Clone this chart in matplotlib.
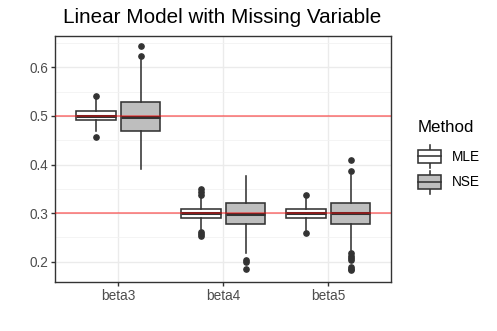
import matplotlib
matplotlib.use("Agg")
import matplotlib.pyplot as plt
from matplotlib.patches import Rectangle
from matplotlib.lines import Line2D
from matplotlib.legend_handler import HandlerBase

plt.rcParams["font.family"] = ["Liberation Sans", "DejaVu Sans"]

categories = ["beta3", "beta4", "beta5"]
methods = ["MLE", "NSE"]
true_values = [0.5, 0.3]

# box statistics per category: [MLE, NSE]
q1 = {"beta3": [0.491, 0.468], "beta4": [0.291, 0.277], "beta5": [0.290, 0.278]}
med = {"beta3": [0.500, 0.498], "beta4": [0.300, 0.299], "beta5": [0.300, 0.300]}
q3 = {"beta3": [0.511, 0.529], "beta4": [0.308, 0.320], "beta5": [0.308, 0.321]}
whislo = {"beta3": [0.468, 0.391], "beta4": [0.267, 0.217], "beta5": [0.265, 0.224]}
whishi = {"beta3": [0.535, 0.615], "beta4": [0.335, 0.376], "beta5": [0.330, 0.378]}
fliers = {
    "beta3": [[0.541, 0.457], [0.623, 0.643]],
    "beta4": [[0.349, 0.343, 0.338, 0.262, 0.257, 0.253], [0.203, 0.199, 0.186]],
    "beta5": [[0.337, 0.260], [0.409, 0.386, 0.218, 0.212, 0.207, 0.203, 0.190, 0.186, 0.183]],
}

fills = ["#FFFFFF", "#BEBEBE"]
edge = "#333333"

fig = plt.figure(figsize=(4.97, 3.31), dpi=100)
ax = fig.add_axes([0.1113, 0.149, 0.676, 0.743])

offset = 0.212
width = 0.375
for i, c in enumerate(categories):
    for j, m in enumerate(methods):
        pos = i + 1 + (-offset if j == 0 else offset)
        stats = [dict(med=med[c][j], q1=q1[c][j], q3=q3[c][j],
                      whislo=whislo[c][j], whishi=whishi[c][j],
                      fliers=fliers[c][j], label=m)]
        ax.bxp(stats, positions=[pos], widths=width, patch_artist=True,
               showcaps=False, manage_ticks=False,
               boxprops=dict(facecolor=fills[j], edgecolor=edge, linewidth=1.15),
               whiskerprops=dict(color=edge, linewidth=1.15),
               medianprops=dict(color=edge, linewidth=2.2),
               flierprops=dict(marker="o", markerfacecolor=edge,
                               markeredgecolor=edge, markersize=3.8),
               zorder=3)

for v in true_values:
    ax.axhline(v, color="#FF0000", alpha=0.5, linewidth=1.2, zorder=5)

ax.set_xlim(0.4, 3.6)
ax.set_ylim(0.159, 0.665)
ax.set_xticks([1, 2, 3])
ax.set_xticklabels(categories)
ax.set_yticks([0.2, 0.3, 0.4, 0.5, 0.6])
ax.set_yticklabels(["0.2", "0.3", "0.4", "0.5", "0.6"])
ax.set_yticks([0.25, 0.35, 0.45, 0.55, 0.65], minor=True)
ax.tick_params(axis="y", which="minor", length=0)
ax.tick_params(axis="both", which="major", length=3, width=1, color="#333333",
               labelcolor="#4D4D4D", labelsize=9.8, pad=2)
ax.grid(True, which="major", color="#EBEBEB", linewidth=1.0, zorder=0)
ax.grid(True, which="minor", axis="y", color="#F2F2F2", linewidth=0.6, zorder=0)
ax.set_axisbelow(True)
for s in ax.spines.values():
    s.set_color("#333333")
    s.set_linewidth(1.0)

fig.text(0.4467, 0.946, "Linear Model with Missing Variable", ha="center",
         va="center", fontsize=14.9, color="black")


class BoxHandler(HandlerBase):
    def create_artists(self, legend, orig_handle, xdescent, ydescent, width,
                       height, fontsize, trans):
        fc = orig_handle.get_facecolor()
        bh = height * 0.59
        x0 = -xdescent
        y0 = -ydescent + (height - bh) / 2
        wl = height * 0.2
        cx = x0 + width / 2
        rect = Rectangle((x0, y0), width, bh, facecolor=fc, edgecolor=edge,
                         linewidth=1.15, transform=trans)
        w1 = Line2D([cx, cx], [y0 - wl, y0], color=edge, linewidth=1.15, transform=trans)
        w2 = Line2D([cx, cx], [y0 + bh, y0 + bh + wl], color=edge, linewidth=1.15, transform=trans)
        md = Line2D([x0, x0 + width], [y0 + bh / 2, y0 + bh / 2], color=edge,
                    linewidth=1.15, transform=trans)
        return [w1, w2, rect, md]


handles = [Rectangle((0, 0), 1, 1, facecolor=f, edgecolor=edge) for f in fills]
leg = fig.legend(handles, methods, title="Method", loc="upper left",
                 bbox_to_anchor=(0.841, 0.637), frameon=False, fontsize=9.8,
                 title_fontsize=12.2, handlelength=1.7, handleheight=2.23,
                 labelspacing=0.2, handletextpad=0.8, borderpad=0, borderaxespad=0,
                 handler_map={Rectangle: BoxHandler()})
leg._legend_box.align = "left"
leg._legend_box.sep = 7

fig.savefig("out.png", dpi=100)
